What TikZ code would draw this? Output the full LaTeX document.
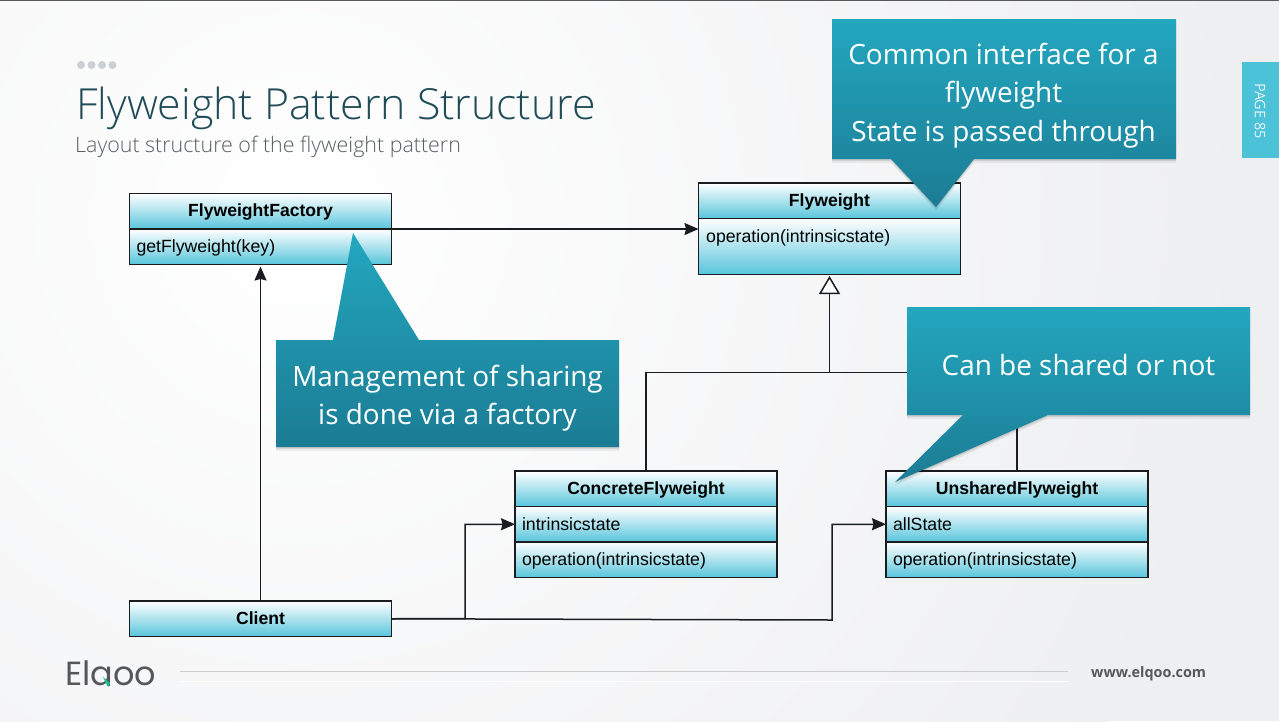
\documentclass[tikz,border=0pt]{standalone}
\usepackage{fontspec}
\setmainfont{Open Sans}
\newfontfamily\lightfont{Open Sans Light}
\newfontfamily\umlfont{Liberation Sans}
\newfontfamily\logofont{Poppins}
\usetikzlibrary{arrows.meta,shadows}
\definecolor{pagebg}{HTML}{EEEFF1}
\definecolor{umlend}{HTML}{58C5DC}
\definecolor{umlline}{HTML}{1A1D20}
\definecolor{calloutA}{HTML}{23A7BF}
\definecolor{calloutB}{HTML}{1B7C94}
\definecolor{tabfill}{HTML}{4CC2D9}
\definecolor{titleink}{HTML}{1F4B57}
\definecolor{subink}{HTML}{5A5E61}
\definecolor{dotgrey}{HTML}{CDD0D3}
\definecolor{logoink}{HTML}{55585A}
\tikzset{
  x=1pt, y=-1pt,
  umlbox/.style={draw=umlline, line width=1.5pt, top color=white, bottom color=umlend,
    minimum width=#1, inner sep=0pt, outer sep=0pt, anchor=north west, text=black},
  umlhead/.style={umlbox=262pt, minimum height=35.5pt, text height=13pt, text depth=2pt,
    font=\umlfont\bfseries\fontsize{17.6}{19}\selectfont},
  umlrow/.style={umlbox=262pt, minimum height=35.5pt, text height=14pt, text depth=2pt,
    font=\umlfont\fontsize{17.7}{19}\selectfont, align=left, text width=248pt},
  umllabel/.style={font=\umlfont\fontsize{17.7}{19}\selectfont, anchor=base west, inner sep=0pt, text=black},
  wire/.style={draw=umlline, line width=1.5pt},
  callarrow/.style={wire, -{Stealth[length=14pt,width=12pt,inset=1.5pt]}},
  inherit/.style={wire, -{Triangle[open,length=18pt,width=21pt,fill=white]}},
  callout/.style={top color=calloutA, bottom color=calloutB,
    drop shadow={shadow xshift=0pt,shadow yshift=-1.5pt,opacity=.12,fill=black},
    drop shadow={shadow xshift=0pt,shadow yshift=-3.5pt,opacity=.07,fill=black}},
  calltext/.style={text=white, font=\fontsize{27.9}{38.5}\selectfont, align=center, inner sep=0pt},
}
\begin{document}
\begin{tikzpicture}
\useasboundingbox (0,0) rectangle (1279,721);

% page background
\fill[pagebg] (0,0) rectangle (1279,721);
\begin{scope}
  \clip (0,0) rectangle (1279,721);
  \shade[inner color=white, outer color=pagebg] (300,220) circle (950);
\end{scope}
\fill[black!65] (0,0) rectangle (1279,1);

% heading
\foreach \dx in {81,91.5,102,112.5} \fill[dotgrey] (\dx,65) circle (4);
\node[anchor=base west, inner sep=0pt, text=titleink, font=\lightfont\fontsize{42.8}{50}\selectfont] (title) at (76,119) {Flyweight Pattern Structure};
\node[anchor=base west, inner sep=0pt, text=subink, font=\lightfont\fontsize{21.4}{25}\selectfont] (subtitle) at (75,152) {Layout structure of the flyweight pattern};

% page tab
\fill[tabfill] (1242,62) rectangle (1279,158);
\node[rotate=-90, text=white!85!tabfill, font=\fontsize{14.5}{16}\selectfont, inner sep=0pt] (pagetab) at (1260,111) {PAGE 85};

% classes
\node[umlhead] (factoryHead) at (129.5,193.5) {FlyweightFactory};
\node[umlrow]  (factoryBody) at (factoryHead.south west) {getFlyweight(key)};

\node[umlhead] (flyHead) at (698.5,183) {Flyweight};
\node[umlbox=262pt, minimum height=56pt] (flyBody) at (flyHead.south west) {};
\node[umllabel] (flyOp) at (706,242) {operation(intrinsicstate)};

\node[umlhead] (concHead) at (515,471) {ConcreteFlyweight};
\node[umlrow]  (concState) at (concHead.south west) {intrinsicstate};
\node[umlrow]  (concOp) at (concState.south west) {operation(intrinsicstate)};

\node[umlhead] (unshHead) at (886,471) {UnsharedFlyweight};
\node[umlrow]  (unshState) at (unshHead.south west) {allState};
\node[umlrow]  (unshOp) at (unshState.south west) {operation(intrinsicstate)};

\node[umlhead] (client) at (129.5,601) {Client};

% connectors
\coordinate (hierBar) at (flyBody.south |- 0,372.5);
\coordinate (concBend) at (465,618.5);
\coordinate (unshBend) at (832,620);

\draw[callarrow] (factoryHead.south east) -- (flyBody.west |- factoryHead.south);
\draw[callarrow] (client.north) -- ([yshift=-2pt]factoryBody.south);
\draw[callarrow] (client.east) -- (concBend) |- (concState.west);
\draw[callarrow] (client.east) -- (unshBend) |- (unshState.west);
\draw[inherit] (hierBar) -- ([yshift=-1.5pt]flyBody.south);
\draw[wire] (concHead.north) |- (unshHead.north |- hierBar) -- (unshHead.north);

% callouts
\path[callout] (832,19) -- (1176,19) -- (1176,159) -- (974,159) -- (936,207) -- (891,159) -- (832,159) -- cycle;
\node[calltext] (noteCommon) at (1003.5,95.5) {Common interface for a\\flyweight\\State is passed through};

\path[callout] (353,233) -- (419,340) -- (619,340) -- (619,447) -- (276,447) -- (276,340) -- (333,340) -- cycle;
\node[calltext] (noteSharing) at (447.5,398) {Management of sharing\\is done via a factory};

\path[callout] (907,307) -- (1250,307) -- (1250,415) -- (1048,415) -- (895,482) -- (963,415) -- (907,415) -- cycle;
\node[calltext] (noteShared) at (1078.5,365) {Can be shared or not};

% footer
\fill[black!20] (180,670.5) rectangle (1068,672);
\fill[white] (180,680.5) rectangle (1068,682);
\begin{scope}
  \clip (50,650) rectangle (170,685.5);
  \node[anchor=base west, inner sep=0pt, text=logoink, font=\logofont\fontsize{33.5}{36}\selectfont] (logo) at (65,685) {Elqoo};
\end{scope}
\fill[calloutA!70!green] (103,677) -- (110,683) -- (108,687) -- cycle;
\node[anchor=base west, inner sep=0pt, text=logoink, font=\bfseries\fontsize{14.4}{16}\selectfont] (site) at (1091,677.5) {www.elqoo.com};
\end{tikzpicture}
\end{document}
